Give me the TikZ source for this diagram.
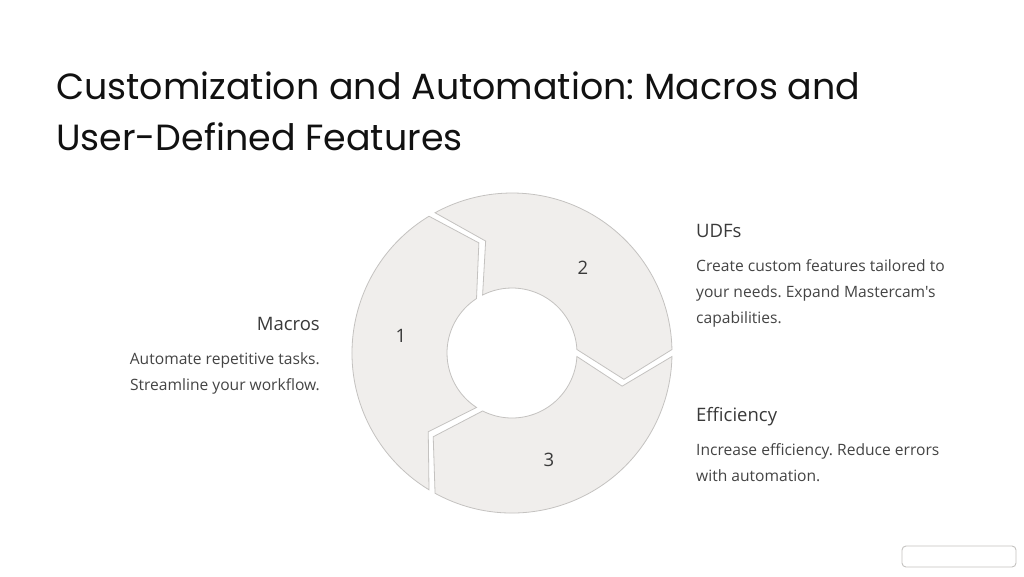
\documentclass[tikz,border=0pt]{standalone}
\usepackage{fontspec}
\setmainfont{Open Sans}
\newfontfamily\bodyfont{Open Sans}
\newfontfamily\titlefont{Poppins}
\frenchspacing
\definecolor{segfill}{HTML}{F0EEEC}
\definecolor{segline}{HTML}{C4C2C0}
\definecolor{headc}{HTML}{3A3A3A}
\definecolor{bodyc}{HTML}{444444}
\definecolor{titlec}{HTML}{111111}
\def\Ro{160}\def\Ri{65}\def\Rm{115}
\def\go{1.25}\def\gi{3.1}\def\gm{1.75}
\newcommand\ringseg[2]{%
  \draw[seg] ({#1+\go}:\Ro) arc[start angle={#1+\go}, end angle={#2-\go}, radius=\Ro]
    -- ({#2-15-\gm}:\Rm) -- ({#2-\gi}:\Ri)
    arc[start angle={#2-\gi}, end angle={#1+\gi}, radius=\Ri]
    -- ({#1-15+\gm}:\Rm) -- cycle;}
\tikzset{
  seg/.style={fill=segfill, draw=segline, line width=0.8pt, line join=miter},
  ttl/.style={font=\titlefont\fontsize{36.4}{36.4}\selectfont, text=titlec, inner sep=0pt, anchor=base west},
  head/.style={font=\bodyfont\fontsize{18.5}{18.5}\selectfont, text=headc, inner sep=0pt},
  body/.style={font=\bodyfont\frenchspacing\fontsize{15.6}{15.6}\selectfont, text=bodyc, inner sep=0pt},
  num/.style={font=\bodyfont\fontsize{18.5}{18.5}\selectfont, text=headc, inner sep=0pt}
}
\begin{document}
\begin{tikzpicture}[x=1pt,y=-1pt]
\useasboundingbox[fill=white] (0,0) rectangle (1024,576);
\node[ttl] (t1) at (56,99) {Customization and Automation: Macros and};
\node[ttl] (t2) at (56,150) {User-Defined Features};
\begin{scope}[shift={(512,353)}, yscale=-1]
  \ringseg{120}{240}
  \ringseg{0}{120}
  \ringseg{240}{360}
\end{scope}
\node[num] (n1) at (401,336) {1};
\node[num] (n2) at (583,268) {2};
\node[num] (n3) at (549,460) {3};
\node[head, anchor=base east] (h1) at (320,330) {Macros};
\node[body, anchor=base east] (b1a) at (320,364) {Automate repetitive tasks.};
\node[body, anchor=base east] (b1b) at (320,390) {Streamline your workflow.};
\node[head, anchor=base west] (h2) at (696,237.5) {UDFs};
\node[body, anchor=base west] (b2a) at (696,271) {Create custom features tailored to};
\node[body, anchor=base west] (b2b) at (696,297) {your needs. Expand Mastercam's};
\node[body, anchor=base west] (b2c) at (696,323) {capabilities.};
\node[head, anchor=base west] (h3) at (696,421.5) {Efficiency};
\node[body, anchor=base west] (b3a) at (696,455.5) {Increase efficiency. Reduce errors};
\node[body, anchor=base west] (b3b) at (696,481.5) {with automation.};
\draw[draw=segline, line width=0.9pt, rounded corners=4pt] (902,546) rectangle (1016,567);
\end{tikzpicture}
\end{document}
